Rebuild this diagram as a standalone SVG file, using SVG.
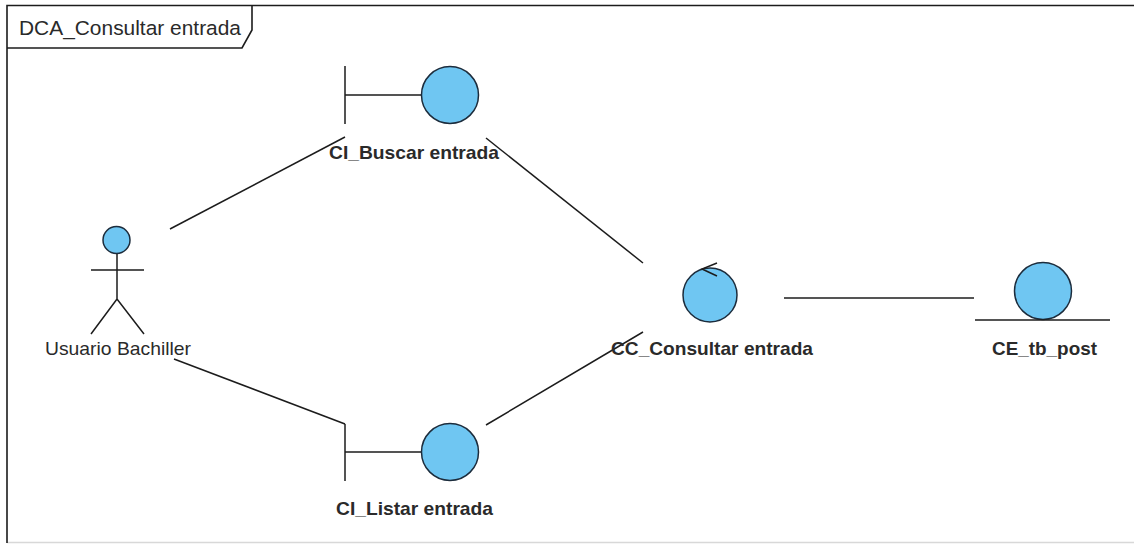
<svg xmlns="http://www.w3.org/2000/svg" width="1134" height="544" viewBox="0 0 1134 544">
<style>
.l{stroke:#1c1c1c;stroke-width:1.5;fill:none}
.c{stroke:#1c2c3c;stroke-width:1.5;fill:#6fc6f2}
.f{stroke:#1c1c1c;stroke-width:1.6;fill:none}
text{font-family:"Liberation Sans",Arial,sans-serif;font-size:19px;fill:#2a2a2a;text-anchor:middle}
.b{font-weight:bold}
</style>
<rect width="1134" height="544" fill="#fff"/>
<g id="frame">
<line x1="7" y1="542.500" x2="1134" y2="542.500" stroke="#d8d8d8" stroke-width="1.500"/>
<path class="f" d="M7 543V5.500H1134M7 48H242L252 30V5.500"/>
<text x="130" y="35" style="font-size:20.500px" textLength="222" lengthAdjust="spacingAndGlyphs">DCA_Consultar entrada</text>
</g>
<g id="connectors">
<line class="l" x1="170" y1="229" x2="345" y2="137"/>
<line class="l" x1="486" y1="138" x2="643" y2="263"/>
<line class="l" x1="174" y1="359" x2="345" y2="424"/>
<line class="l" x1="486" y1="425" x2="643" y2="332"/>
<line class="l" x1="784" y1="298" x2="974" y2="298"/>
</g>
<g id="actor">
<circle class="c" cx="116.500" cy="240" r="13.500"/>
<path class="l" d="M117 254V299M91 270H144M91 334L117 299L144 334"/>
<text x="118" y="355" textLength="146" lengthAdjust="spacingAndGlyphs">Usuario Bachiller</text>
</g>
<g id="ci-buscar">
<path class="l" d="M345 66V124M345 95H422"/>
<circle class="c" cx="450" cy="95" r="28.500"/>
<text class="b" x="414" y="159" textLength="170" lengthAdjust="spacingAndGlyphs">CI_Buscar entrada</text>
</g>
<g id="ci-listar">
<path class="l" d="M345 424V481M345 452H422"/>
<circle class="c" cx="450" cy="452" r="28.500"/>
<text class="b" x="414.500" y="515" textLength="157" lengthAdjust="spacingAndGlyphs">CI_Listar entrada</text>
</g>
<g id="cc-consultar">
<circle class="c" cx="710" cy="295" r="27"/>
<path class="l" d="M717 263L702 269L717 276"/>
<text class="b" x="712" y="355" textLength="202" lengthAdjust="spacingAndGlyphs">CC_Consultar entrada</text>
</g>
<g id="ce-tb-post">
<circle class="c" cx="1043" cy="291" r="28.500"/>
<line class="l" x1="975" y1="320" x2="1110" y2="320"/>
<text class="b" x="1044.500" y="355" textLength="105" lengthAdjust="spacingAndGlyphs">CE_tb_post</text>
</g>
</svg>
